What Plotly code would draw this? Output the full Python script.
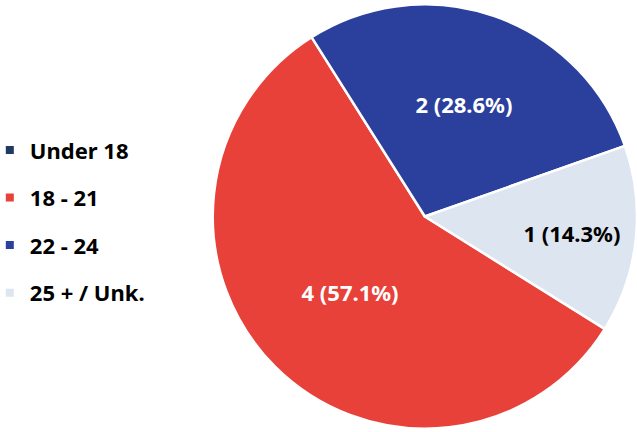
import plotly.graph_objects as go

labels = ["Under 18", "18 - 21", "22 - 24", "25 + / Unk."]
counts = [0, 4, 2, 1]
colors = ["#203864", "#E8413A", "#2B3F9C", "#DDE5F1"]
text_colors = ["white", "white", "white", "black"]

total = sum(counts)
slice_text = [f"{v} ({v / total:.1%})" if v else "" for v in counts]

fig = go.Figure()

fig.add_trace(go.Pie(
    labels=labels,
    values=counts,
    text=slice_text,
    textinfo="text",
    textposition="inside",
    insidetextorientation="horizontal",
    textfont=dict(color=text_colors, size=22, family="Noto Sans", weight="bold"),
    marker=dict(colors=colors, line=dict(color="white", width=2.5)),
    sort=False,
    direction="clockwise",
    rotation=122,
    showlegend=False,
    hoverinfo="label+value+percent",
    domain=dict(x=[0.334, 1.0], y=[0, 1]),
))

# legend entries (spacing control via separate groups)
for lab, col in zip(labels, colors):
    fig.add_trace(go.Scatter(
        x=[None], y=[None], mode="markers", name=lab, legendgroup=lab,
        marker=dict(symbol="square", size=8, color=col),
    ))

fig.update_xaxes(visible=False)
fig.update_yaxes(visible=False)
fig.update_layout(
    width=637, height=432,
    margin=dict(l=0, r=0, t=3, b=2, autoexpand=False),
    paper_bgcolor="white", plot_bgcolor="white",
    font=dict(family="Noto Sans", color="black"),
    legend=dict(
        x=-0.016, y=0.488, xanchor="left", yanchor="middle",
        font=dict(size=22, family="Noto Sans", color="black", weight="bold"),
        tracegroupgap=16, itemwidth=30,
    ),
)

fig.write_html("out.html", config={"displayModeBar": False},
               post_script="document.body.style.margin='0';")
